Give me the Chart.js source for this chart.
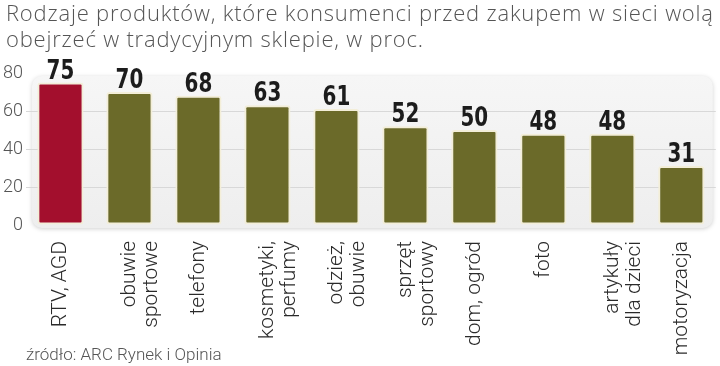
<!DOCTYPE html>
<html>
<head>
<meta charset="utf-8">
<script src="https://cdn.jsdelivr.net/npm/chart.js@4/dist/chart.umd.min.js"></script>
<style>
  html, body { margin: 0; padding: 0; background: #fff; }
  #wrap { width: 720px; height: 366px; position: relative; }
</style>
</head>
<body>
<div id="wrap"><canvas id="wykres"></canvas></div>
<script>
// =====================
// Dane
// =====================
const tytul = [
  "Rodzaje produktów, które konsumenci przed zakupem w sieci wolą",
  "obejrzeć w tradycyjnym sklepie, w proc.",
];
const zrodlo = "źródło: ARC Rynek i Opinia";

const kategorie = [
  ["RTV, AGD"],
  ["obuwie", "sportowe"],
  ["telefony"],
  ["kosmetyki,", "perfumy"],
  ["odzież,", "obuwie"],
  ["sprzęt", "sportowy"],
  ["dom, ogród"],
  ["foto"],
  ["artykuły", "dla dzieci"],
  ["motoryzacja"],
];
const wartosci = [75, 70, 68, 63, 61, 52, 50, 48, 48, 31];
const osY = [0, 20, 40, 60, 80];

const CZERWONY = "#a30f2d";
const OLIWKOWY = "#6b6a29";

// =====================
// Tło pola wykresu (szary zaokrąglony prostokąt)
// =====================
const tloPlugin = {
  id: "tlo",
  beforeDraw(chart) {
    const { ctx, chartArea: a } = chart;
    const x = a.left + 6, y = a.top + 3;
    const w = a.right - 3 - x, h = a.bottom + 3 - y;
    ctx.save();
    ctx.shadowColor = "rgba(0,0,0,0.18)";
    ctx.shadowBlur = 4;
    ctx.shadowOffsetY = 1;
    const g = ctx.createLinearGradient(0, y, 0, y + h);
    g.addColorStop(0, "#f6f6f6");
    g.addColorStop(1, "#eeeeee");
    ctx.fillStyle = g;
    ctx.beginPath();
    ctx.roundRect(x, y, w, h, 10);
    ctx.fill();
    ctx.restore();
  },
};

// =====================
// Tytuł, etykiety wartości nad słupkami, źródło
// =====================
const etykietyPlugin = {
  id: "etykiety",
  afterDatasetsDraw(chart) {
    const { ctx } = chart;
    const meta = chart.getDatasetMeta(0);
    ctx.save();
    ctx.font = "bold 27px 'DejaVu Sans Condensed', 'DejaVu Sans', sans-serif";
    ctx.fillStyle = "#1c1c1c";
    ctx.textAlign = "center";
    ctx.textBaseline = "alphabetic";
    meta.data.forEach((bar, i) => {
      ctx.save();
      ctx.translate(bar.x, bar.y - 4);
      ctx.scale(0.82, 1);
      ctx.fillText(String(wartosci[i]), 0, 0);
      ctx.restore();
    });
    ctx.restore();
  },
  afterDraw(chart) {
    const { ctx } = chart;
    ctx.save();
    ctx.fillStyle = "#555";
    ctx.textAlign = "left";
    ctx.textBaseline = "alphabetic";
    ctx.font = "300 22px 'Open Sans', sans-serif";
    ctx.letterSpacing = "0.8px";
    ctx.fillText(tytul[0], 6, 21);
    ctx.fillText(tytul[1], 6, 47);
    ctx.letterSpacing = "0px";
    ctx.font = "300 17px Roboto, sans-serif";
    ctx.textBaseline = "middle";
    ctx.fillText(zrodlo, 26, 356);
    ctx.restore();
  },
};

const ctx = document.getElementById("wykres").getContext("2d");

new Chart(ctx, {
  type: "bar",
  data: {
    labels: kategorie,
    datasets: [
      {
        data: wartosci,
        backgroundColor: (c) => (c.dataIndex === 0 ? CZERWONY : OLIWKOWY),
        borderColor: "#f3eed8",
        borderWidth: 2,
        borderRadius: 3,
        borderSkipped: false,
        barPercentage: 0.67,
        categoryPercentage: 1,
      },
    ],
  },
  options: {
    responsive: true,
    maintainAspectRatio: false,
    animation: false,
    layout: { padding: { left: 0, right: 0, top: 73, bottom: 0 } },
    scales: {
      x: {
        grid: { display: false, drawTicks: false },
        border: { display: false },
        afterFit: (scale) => {
          scale.height = 141;
        },
        ticks: {
          color: "#2a2a2a",
          font: { family: "Roboto", size: 21, weight: 300, lineHeight: 1.08 },
          minRotation: 90,
          maxRotation: 90,
          padding: 16,
          autoSkip: false,
        },
      },
      y: {
        min: osY[0],
        max: osY[osY.length - 1],
        grid: {
          drawTicks: false,
          color: (c) => (c.tick.value > 0 && c.tick.value < 80 ? "#d8d8d8" : "rgba(0,0,0,0)"),
          lineWidth: 1,
        },
        border: { display: false },
        ticks: {
          stepSize: 20,
          color: "#555",
          font: { family: "Roboto", size: 18, weight: 300 },
          padding: 3,
        },
      },
    },
    plugins: {
      legend: { display: false },
      tooltip: { enabled: false },
      title: { display: false },
    },
  },
  plugins: [tloPlugin, etykietyPlugin],
});
</script>
</body>
</html>
